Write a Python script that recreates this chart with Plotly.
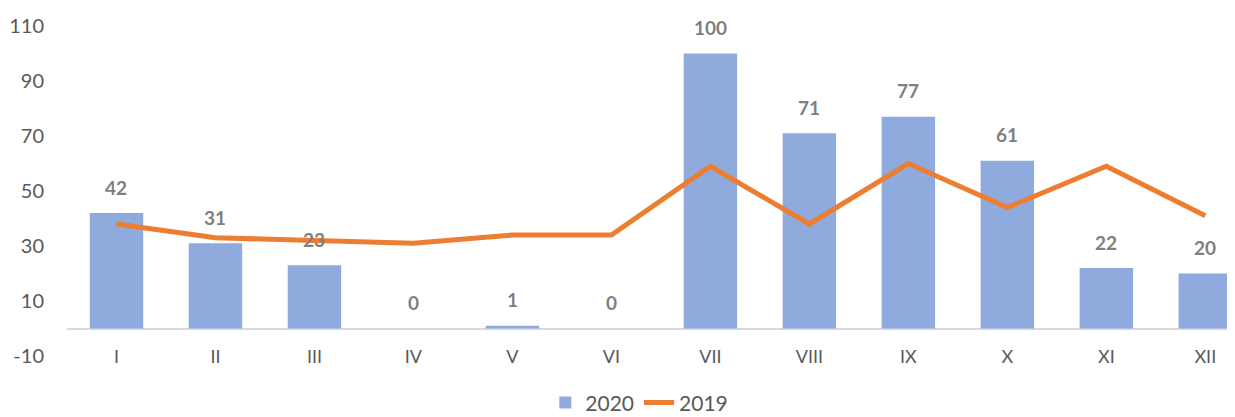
import plotly.graph_objects as go

months = ["I", "II", "III", "IV", "V", "VI", "VII", "VIII", "IX", "X", "XI", "XII"]
values_2020 = [42, 31, 23, 0, 1, 0, 100, 71, 77, 61, 22, 20]
values_2019 = [38, 33, 32, 31, 34, 34, 59, 38, 60, 44, 59, 41]
y_ticks = [-10, 10, 30, 50, 70, 90, 110]
y_tick_labels = ["-10", "10", "30", "50", "70", "90", "110"]

FONT = "Lato"
GRAY = "#595959"

fig = go.Figure()
fig.add_trace(go.Bar(
    x=months, y=values_2020, name="2020",
    marker=dict(color="#8FAADC", line=dict(width=0)),
    width=0.54,
))
fig.add_trace(go.Scatter(
    x=months, y=values_2019, name="2019", mode="lines",
    line=dict(color="#ED7D31", width=5),
))

for m, v in zip(months, values_2020):
    fig.add_annotation(
        x=m, y=v, text=f"<b>{v}</b>", showarrow=False, yshift=26,
        font=dict(family=FONT, size=19, color="#7F7F7F"),
    )

fig.update_layout(
    width=1227, height=409,
    margin=dict(l=59, r=0, t=18, b=61, autoexpand=False),
    plot_bgcolor="white", paper_bgcolor="white",
    font=dict(family=FONT, size=18, color=GRAY),
    showlegend=True,
    legend=dict(
        orientation="h", x=0.49, xanchor="center", y=-0.142, yanchor="middle",
        font=dict(family=FONT, size=21, color=GRAY),
        traceorder="normal",
    ),
)
fig.update_xaxes(
    range=[-0.5, 11.3], showgrid=False, showline=False, ticks="",
    tickfont=dict(family=FONT, size=18, color=GRAY),
    ticklabelstandoff=-12,
)
fig.update_yaxes(
    range=[-10, 110], tickvals=y_ticks, ticktext=y_tick_labels, showgrid=False,
    zeroline=True, zerolinecolor="#D9D9D9", zerolinewidth=2,
    showline=False, ticks="",
    tickfont=dict(family=FONT, size=20, color=GRAY),
    ticklabelstandoff=22,
)

fig.write_html("out.html")
